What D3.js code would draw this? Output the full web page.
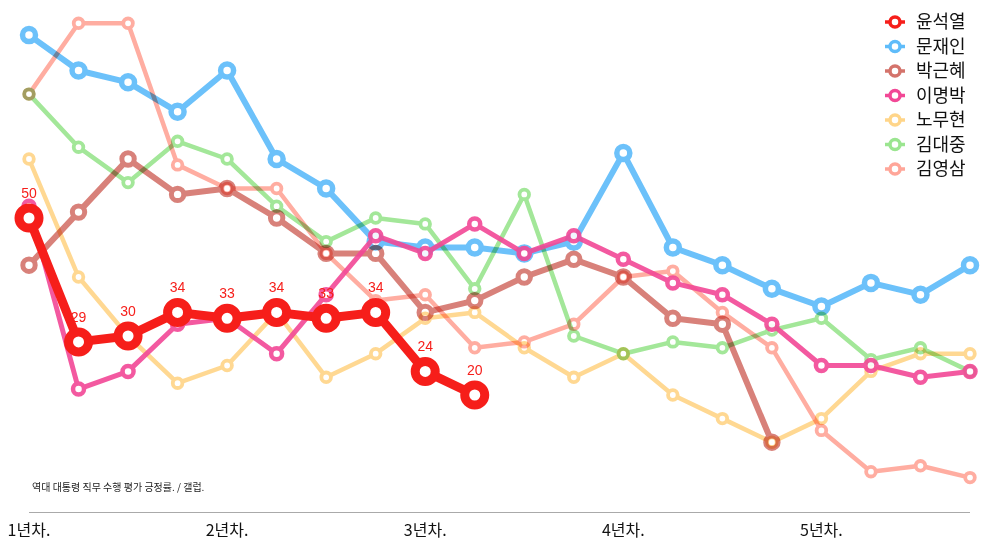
<!DOCTYPE html>
<html><head><meta charset="utf-8">
<script src="https://cdn.jsdelivr.net/npm/d3@7"></script>
<style>
html,body{margin:0;padding:0;background:#fff;}
svg{display:block;}
</style></head>
<body>
<script>
const periods = d3.range(20);
const tickIndex = [0, 4, 8, 12, 16];
const tickLabels = ["1년차.", "2년차.", "3년차.", "4년차.", "5년차."];
const names = ["윤석열", "문재인", "박근혜", "이명박", "노무현", "김대중", "김영삼"];
const yoon  = [50, 29, 30, 34, 33, 34, 33, 34, 24, 20];
const moon  = [81, 75, 73, 68, 75, 60, 55, 46, 45, 45, 44, 46, 61, 45, 42, 38, 35, 39, 37, 42];
const park  = [42, 51, 60, 54, 55, 50, 44, 44, 34, 36, 40, 43, 40, 33, 32, 12];
const lee   = [52, 21, 24, 32, 33, 27, 37, 47, 44, 49, 44, 47, 43, 39, 37, 32, 25, 25, 23, 24];
const roh   = [60, 40, 30, 22, 25, 34, 23, 27, 33, 34, 28, 23, 27, 20, 16, 12, 16, 24, 27, 27];
const kimdj = [71, 62, 56, 63, 60, 52, 46, 50, 49, 38, 54, 30, 27, 29, 28, 31, 33, 26, 28, 24];
const kimys = [71, 83, 83, 59, 55, 55, 44, 36, 37, 28, 29, 32, 40, 41, 34, 28, 14, 7, 8, 6];
const caption = "역대 대통령 직무 수행 평가 긍정률. / 갤럽.";

const W = 982, H = 547;
const svg = d3.select("body").append("svg").attr("width", W).attr("height", H);
const x = d3.scaleLinear().domain([0, 19]).range([29, 970]);
const y = d3.scaleLinear().domain([0, 85]).range([513, 11.5]);

const series = [
  {name: names[6], data: kimys, color: "#ffa699", lw: 4.5, r: 4.8, sw: 3.8, blend: "multiply", op: 0.92},
  {name: names[5], data: kimdj, color: "#9be590", lw: 4.5, r: 4.8, sw: 3.8, blend: "multiply", op: 0.92},
  {name: names[4], data: roh,   color: "#ffd589", lw: 4.5, r: 4.8, sw: 3.8, blend: "multiply", op: 0.92},
  {name: names[2], data: park,  color: "#d4736b", lw: 6,   r: 6.2, sw: 5,   blend: "multiply", op: 0.9},
  {name: names[1], data: moon,  color: "#5fbcfa", lw: 6,   r: 6.5, sw: 5.5, blend: "multiply", op: 0.92},
  {name: names[3], data: lee,   color: "#f24896", lw: 5,   r: 5.5, sw: 4.5, blend: "normal",   op: 0.9},
];
const line = d3.line().x((d, i) => x(i)).y(d => y(d));

series.forEach(s => {
  const g = svg.append("g").style("mix-blend-mode", s.blend).attr("opacity", s.op);
  g.append("path").datum(s.data).attr("d", line).attr("fill", "none")
    .attr("stroke", s.color).attr("stroke-width", s.lw).attr("stroke-linejoin", "round");
  g.selectAll("circle").data(s.data).join("circle")
    .attr("cx", (d, i) => x(i)).attr("cy", d => y(d)).attr("r", s.r)
    .attr("fill", "#fff").attr("stroke", s.color).attr("stroke-width", s.sw);
});

// 윤석열
const red = "#f61e1a";
const gy = svg.append("g");
gy.selectAll("text").data(yoon).join("text")
  .attr("x", (d, i) => x(i)).attr("y", d => y(d) - 20)
  .attr("text-anchor", "middle").attr("fill", red)
  .style("font-family", "'Liberation Sans', Arial, sans-serif").style("font-size", "14px")
  .text(d => d);
gy.append("path").datum(yoon).attr("d", line).attr("fill", "none")
  .attr("stroke", red).attr("stroke-width", 9).attr("stroke-linejoin", "round");
gy.selectAll("circle").data(yoon).join("circle")
  .attr("cx", (d, i) => x(i)).attr("cy", d => y(d)).attr("r", 10)
  .attr("fill", "#fff").attr("stroke", red).attr("stroke-width", 9);

// axis
svg.append("line").attr("x1", 29).attr("x2", 970).attr("y1", 512.5).attr("y2", 512.5)
  .attr("stroke", "#aaa").attr("stroke-width", 1);
svg.selectAll("text.tick").data(tickIndex).join("text").attr("class", "tick")
  .attr("x", d => x(d)).attr("y", 536).attr("text-anchor", "middle")
  .style("font-family", "'Noto Sans CJK KR', sans-serif").style("font-size", "16px")
  .attr("fill", "#111").text((d, i) => tickLabels[i]);

svg.append("text").attr("x", 32).attr("y", 491)
  .style("font-family", "'Noto Sans CJK KR', sans-serif").style("font-size", "10px")
  .attr("fill", "#222").text(caption);

// legend
const legColors = {"윤석열": red, "문재인": "#5fbcfa", "박근혜": "#d4736b", "이명박": "#f24896",
  "노무현": "#ffd589", "김대중": "#9be590", "김영삼": "#ffa699"};
const lg = svg.append("g").attr("transform", "translate(895,22)");
names.forEach((n, i) => {
  const row = lg.append("g").attr("transform", `translate(0,${i * 24.5})`);
  row.append("line").attr("x1", -10).attr("x2", 10).attr("stroke", legColors[n]).attr("stroke-width", 3.5);
  row.append("circle").attr("r", 5).attr("fill", "#fff").attr("stroke", legColors[n]).attr("stroke-width", 3.5);
  row.append("text").attr("x", 21).attr("y", 0).attr("dy", "0.35em")
    .style("font-family", "'Noto Sans CJK KR', sans-serif").style("font-size", "18px")
    .attr("fill", "#111").text(n);
});
</script>
</body></html>
